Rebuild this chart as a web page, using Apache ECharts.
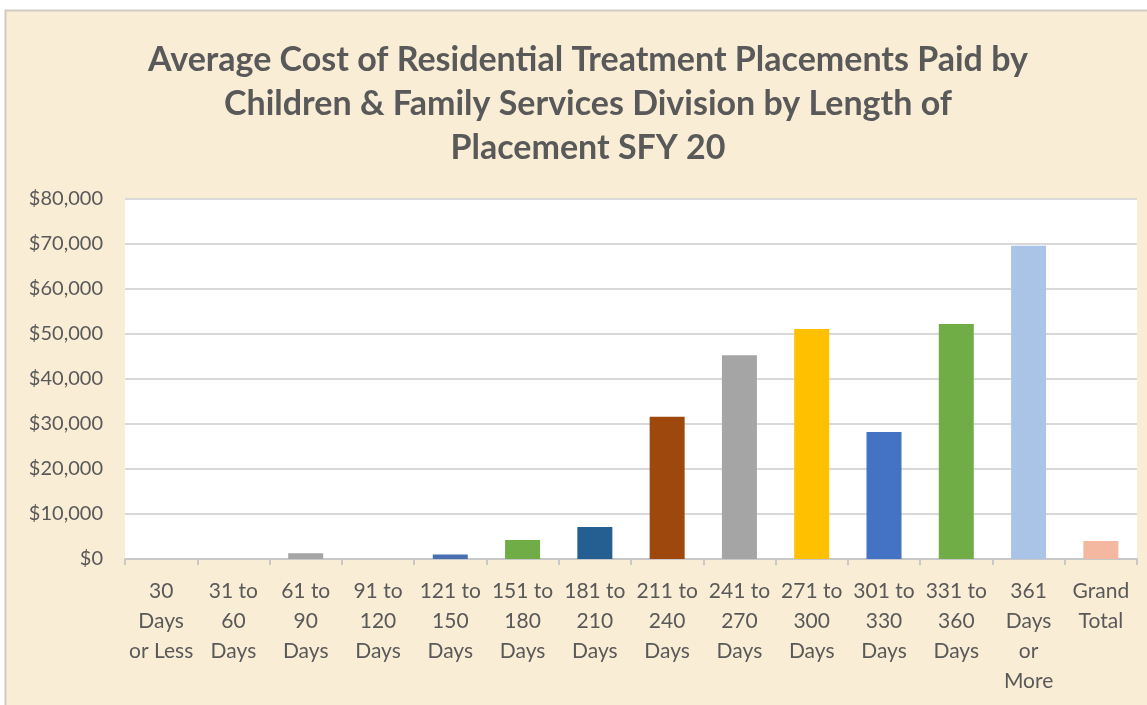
<!DOCTYPE html>
<html>
<head>
<meta charset="utf-8">
<script src="https://cdn.jsdelivr.net/npm/echarts@6/dist/echarts.min.js"></script>
<style>
    html, body { margin: 0; padding: 0; background: #ffffff; }
    #chart { width: 1147px; height: 705px; }
</style>
</head>
<body>
<div id="chart"></div>
<script>
const categories = [
    '30\nDays\nor Less', '31 to\n60\nDays', '61 to\n90\nDays', '91 to\n120\nDays',
    '121 to\n150\nDays', '151 to\n180\nDays', '181 to\n210\nDays', '211 to\n240\nDays',
    '241 to\n270\nDays', '271 to\n300\nDays', '301 to\n330\nDays', '331 to\n360\nDays',
    '361\nDays\nor\nMore', 'Grand\nTotal'
];
const avgCost = [0, 0, 1300, 0, 1000, 4200, 7100, 31600, 45300, 51100, 28200, 52200, 69600, 4000];
const barColors = [
    '#4472C4', '#ED7D31', '#A5A5A5', '#FFC000', '#4A6FB0', '#70AD47', '#255E91',
    '#9E480E', '#A5A5A5', '#FFC000', '#4472C4', '#70AD47', '#A9C4E6', '#F4B8A0'
];
const yTicks = { min: 0, max: 80000, interval: 10000 };

const chart = echarts.init(document.getElementById('chart'));
const textColor = '#595959';

function money(v) {
    return '$' + String(v).replace(/\B(?=(\d{3})+(?!\d))/g, ',');
}

const option = {
    backgroundColor: '#ffffff',
    animation: false,
    graphic: [{
        type: 'rect',
        z: -10,
        shape: { x: 5.5, y: 10.5, width: 1150, height: 700 },
        style: { fill: '#F9EDD6', stroke: '#D0CCC4', lineWidth: 2 }
    }],
    title: {
        text: 'Average Cost of Residential Treatment Placements Paid by\nChildren & Family Services Division by Length of\nPlacement SFY 20',
        left: 583,
        top: 33,
        textAlign: 'center',
        textStyle: {
            color: textColor,
            fontSize: 34,
            fontWeight: 'bold',
            fontFamily: 'Lato',
            lineHeight: 44
        }
    },
    grid: {
        left: 125,
        right: 10,
        top: 199,
        bottom: 146,
        show: true,
        backgroundColor: '#ffffff',
        borderWidth: 0
    },
    xAxis: {
        type: 'category',
        data: categories,
        axisLine: { lineStyle: { color: '#C8C8C8', width: 2 } },
        axisTick: { show: true, length: 6, lineStyle: { color: '#C8C8C8', width: 2 } },
        axisLabel: {
            color: textColor,
            fontSize: 21,
            fontFamily: 'Lato',
            lineHeight: 30,
            interval: 0,
            margin: 17
        }
    },
    yAxis: {
        type: 'value',
        min: yTicks.min,
        max: yTicks.max,
        interval: yTicks.interval,
        axisLine: { show: false },
        axisTick: { show: false },
        splitLine: { lineStyle: { color: '#D9D9D9', width: 2 } },
        axisLabel: {
            color: textColor,
            fontSize: 20,
            fontFamily: 'Lato',
            margin: 22,
            formatter: money
        }
    },
    series: [{
        type: 'bar',
        barWidth: 35,
        data: avgCost.map((v, i) => ({ value: v, itemStyle: { color: barColors[i] } }))
    }]
};

chart.setOption(option);
</script>
</body>
</html>
